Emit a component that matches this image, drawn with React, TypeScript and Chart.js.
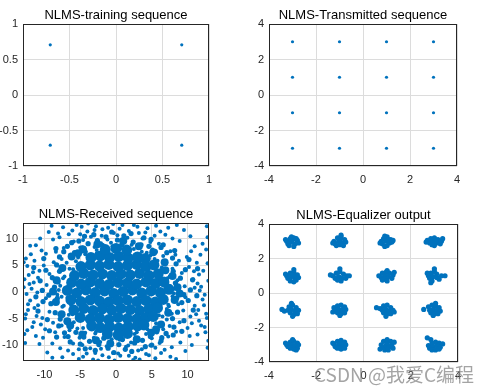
import React, { useEffect, useRef } from 'react';
import { Chart, registerables } from 'chart.js';

Chart.register(...registerables);

// ---------- data ----------
const trainingPoints: number[][] = [
  [-0.707, 0.707], [0.707, 0.707], [-0.707, -0.707], [0.707, -0.707],
];

const transmittedPoints: number[][] = [
  [-3, 3], [-1, 3], [1, 3], [3, 3],
  [-3, 1], [-1, 1], [1, 1], [3, 1],
  [-3, -1], [-1, -1], [1, -1], [3, -1],
  [-3, -3], [-1, -3], [1, -3], [3, -3],
];

// dense centre of the received cloud
const receivedCore: number[][] = [
  [-6.8, 0.3], [-5.5, -0.2], [-4.2, 0.4], [-2.9, -0.1], [-1.6, 0.2], [-0.3, -0.3], [1.0, 0.1], [2.3, 0.4], [3.6, -0.2], [4.9, 0.2], [6.2, -0.1], [7.4, 0.5],
  [-6.2, 1.8], [-4.9, 1.5], [-3.6, 1.9], [-2.3, 1.6], [-1.0, 1.4], [0.3, 1.8], [1.6, 1.7], [2.9, 1.5], [4.2, 1.9], [5.5, 1.6], [6.7, 1.9],
  [-6.3, -1.5], [-4.9, -1.8], [-3.6, -1.5], [-2.3, -1.7], [-1.0, -1.9], [0.3, -1.6], [1.6, -1.5], [2.9, -1.8], [4.2, -1.6], [5.5, -1.9], [6.6, -1.4],
  [-5.8, 3.1], [-4.5, 3.5], [-3.2, 3.2], [-1.9, 3.4], [-0.6, 3.1], [0.7, 3.4], [2.0, 3.2], [3.3, 3.5], [4.6, 3.1], [5.9, 3.4],
  [-5.9, -3.4], [-4.5, -3.1], [-3.2, -3.5], [-1.9, -3.2], [-0.6, -3.4], [0.7, -3.1], [2.0, -3.3], [3.3, -3.5], [4.6, -3.2], [5.8, -3.0],
  [-4.9, 4.8], [-3.6, 5.1], [-2.3, 4.9], [-1.0, 5.2], [0.3, 4.8], [1.6, 5.0], [2.9, 5.2], [4.2, 4.8], [5.3, 5.1],
  [-5.0, -4.8], [-3.6, -5.1], [-2.3, -4.9], [-1.0, -5.2], [0.3, -4.8], [1.6, -5.0], [2.9, -5.1], [4.2, -4.8], [5.2, -4.6],
  [-3.5, 6.5], [-2.2, 6.8], [-0.9, 6.5], [0.4, 6.7], [1.7, 6.4], [3.0, 6.6], [4.1, 6.3],
  [-3.4, -6.4], [-2.2, -6.7], [-0.9, -6.5], [0.4, -6.8], [1.7, -6.5], [3.0, -6.4], [3.9, -6.2],
  [-1.5, 8.0], [0.0, 8.2], [1.5, 7.9],
  [-1.2, -7.9], [0.3, -8.1], [1.6, -7.8],
];

// fringe of the dense centre
const receivedInner: number[][] = [
  [8.6, 0.9], [8.2, -1.5], [7.9, 3.0], [7.3, -3.9], [6.8, 5.6], [6.3, -6.1], [5.2, 7.5], [4.9, -7.7], [3.2, 8.6], [2.9, -8.9],
  [1.0, 9.6], [-0.8, -9.7], [-2.6, 9.0], [-2.8, -9.1], [-4.6, 8.0], [-4.7, -8.0], [-6.2, 6.7], [-6.4, -6.3], [-7.5, 4.5], [-7.6, -4.2],
  [-8.3, 2.2], [-8.4, -1.9], [-8.8, 0.1], [8.9, -0.3], [6.9, 4.1], [-6.8, -5.5], [-5.3, 7.3], [5.6, -7.0],
];

// band of medium density around the centre
const receivedMid: number[][] = [
  [-5.8, 7.4], [-4.7, 8.3], [-3.9, 9.1], [-2.6, 9.7], [-1.4, 10.4], [0.2, 9.8], [1.1, 10.6], [2.4, 9.4], [3.5, 8.9], [4.6, 8.6], [5.5, 7.6],
  [-3.1, 10.8], [-0.6, 11.3], [2.1, 11.0], [3.9, 10.2], [-5.2, 9.6], [6.3, 8.4], [-6.8, 8.6], [0.8, 8.9], [-1.9, 8.8], [4.9, 9.9], [-4.4, 10.5],
  [-5.6, -7.6], [-4.5, -8.5], [-3.7, -9.3], [-2.4, -9.9], [-1.1, -10.6], [0.4, -9.9], [1.3, -10.8], [2.6, -9.6], [3.7, -9.1], [4.8, -8.4], [5.7, -7.5],
  [-2.9, -11.0], [-0.3, -11.4], [2.2, -11.2], [4.1, -10.3], [-5.0, -9.8], [6.4, -8.6], [-6.7, -8.4], [0.9, -8.9], [-1.7, -8.7], [5.0, -10.0], [-4.3, -10.7],
  [-8.6, 0.9], [-9.4, -0.6], [-8.9, 2.7], [-9.8, 4.1], [-8.3, 5.1], [-7.9, 6.6], [-9.1, -2.2], [-8.5, -3.9], [-9.6, -5.2], [-8.0, -6.4], [-10.3, 0.3],
  [-10.6, 2.1], [-10.2, -1.8], [-10.9, -3.6], [-7.8, -5.1], [-7.9, 3.9], [-11.2, -0.9], [-10.1, 6.3], [-9.3, -7.3], [-11.5, 4.6], [-8.2, -1.2], [-8.1, 1.9],
  [8.7, 0.8], [9.5, -0.5], [9.0, 2.6], [9.7, 4.2], [8.4, 5.3], [7.9, 6.4], [9.2, -2.0], [8.6, -3.8], [9.5, -5.4], [8.1, -6.6], [10.4, 0.4],
  [10.7, 2.3], [10.1, -1.6], [10.8, -3.4], [7.9, -5.0], [8.0, 3.9], [11.3, -0.7], [10.2, 6.1], [9.2, -7.4], [11.4, 4.4], [8.5, -1.1], [8.3, 1.7],
  [7.1, 7.4], [6.6, 8.9], [8.2, 7.8], [-7.3, 7.6], [-6.2, 9.3], [-8.4, 8.2], [7.0, -7.8], [6.3, -9.2], [8.0, -8.1], [-7.2, -7.7], [-6.4, -9.4], [-8.3, -8.5],
];

// scattered points of the received cloud
const receivedScatter: number[][] = [
  [7.6, 1.1], [7.9, -0.8], [7.3, -2.4], [7.2, 2.6], [6.4, 4.6], [5.8, 5.9], [4.8, 6.9], [3.6, 7.6], [2.5, 8.1], [-2.7, 7.9],
  [-4.3, 7.1], [-5.6, 5.8], [-6.5, 4.4], [-7.2, 2.9], [-7.8, 1.2], [-7.6, -0.9], [-7.3, -2.6], [-6.6, -4.3], [-5.9, -5.7], [-4.6, -6.8],
  [-2.9, -7.8], [2.6, -7.9], [4.4, -7.0], [5.6, -5.9], [6.5, -4.6], [7.1, -3.2], [0.9, -9.1], [-0.7, 9.3], [-8.3, -1.7], [8.4, 1.8],
  [6.8, 1.2], [7.5, 2.9], [6.2, 4.1], [8.1, 0.6], [7.0, 5.3], [5.4, 6.2], [4.3, 7.4], [6.6, 6.8], [3.1, 8.3], [2.2, 8.9],
  [5.1, 8.0], [7.9, 4.4], [8.6, 2.2], [9.2, 3.6], [6.1, 2.5], [7.4, 0.2], [8.8, 5.9], [4.8, 9.4], [1.3, 9.6], [3.7, 10.1],
  [6.0, 9.1], [7.6, 7.7], [9.6, 1.1], [10.2, 4.7], [0.6, 8.2], [2.9, 7.1], [5.7, 5.0], [8.3, 7.0], [9.9, 6.6], [4.1, 11.2],
  [1.8, 11.5], [6.9, 10.8], [10.8, 2.4], [11.3, 5.5], [0.2, 10.7], [3.0, 12.3], [8.9, 9.6], [11.9, 1.0], [12.6, 8.0], [12.8, 10.3],
  [9.5, 11.7], [5.6, 12.5], [11.0, 8.6], [12.2, 4.0], [0.9, 12.6], [7.3, 12.1], [10.4, 10.5], [12.7, 12.4],
  [-6.7, 1.0], [-7.4, 2.6], [-6.0, 4.3], [-8.0, 0.4], [-6.9, 5.5], [-5.3, 6.5], [-4.2, 7.6], [-6.4, 7.0], [-3.0, 8.5], [-2.1, 9.2],
  [-5.0, 8.4], [-7.8, 4.1], [-8.5, 2.0], [-9.3, 3.4], [-6.2, 2.3], [-7.6, 6.2], [-8.7, 5.6], [-4.6, 9.8], [-1.2, 9.9], [-3.5, 10.4],
  [-5.9, 9.5], [-7.3, 8.3], [-9.7, 1.3], [-10.1, 5.0], [-0.5, 8.6], [-2.7, 7.3], [-8.4, 7.6], [-9.8, 7.2], [-4.0, 11.4], [-1.9, 11.8],
  [-6.6, 10.9], [-10.9, 2.7], [-11.4, 5.9], [-0.3, 11.1], [-2.8, 12.4], [-8.8, 9.9], [-12.1, 1.5], [-12.6, 6.3], [-12.4, 4.9], [-9.4, 11.3],
  [-5.5, 12.6], [-11.2, 8.8], [-7.4, 12.2], [-10.6, 10.1], [-12.9, 0.9], [-3.9, 12.9], [-8.1, 11.0], [-12.2, 3.2],
  [-6.8, -1.1], [-7.5, -2.8], [-6.1, -4.2], [-8.2, -0.5], [-6.9, -5.4], [-5.4, -6.9], [-4.3, -7.7], [-6.5, -7.2], [-3.1, -8.6], [-2.2, -9.4],
  [-5.1, -8.6], [-7.9, -4.3], [-8.6, -2.1], [-9.3, -3.7], [-6.3, -2.4], [-7.6, -6.3], [-8.8, -5.8], [-4.7, -10.0], [-1.3, -10.2], [-3.6, -10.6],
  [-6.0, -9.7], [-7.2, -8.5], [-9.8, -1.2], [-10.3, -4.9], [-0.6, -8.9], [-2.8, -7.5], [-8.5, -7.6], [-9.9, -7.0], [-4.1, -11.6], [-1.9, -11.9],
  [-6.7, -11.0], [-10.9, -2.5], [-11.5, -5.7], [-0.4, -11.5], [-5.2, -12.6], [-8.9, -9.7], [-12.0, -1.6], [-12.7, -5.0], [-11.2, -8.3], [-9.6, -11.4],
  [-3.2, -12.7], [-12.3, -3.4], [-7.5, -12.3], [-10.7, -9.8], [-12.8, -7.9], [-2.5, -12.9],
  [6.7, -1.0], [7.4, -2.7], [6.0, -4.4], [8.1, -0.3], [7.1, -5.2], [5.5, -6.8], [4.2, -7.9], [6.6, -7.0], [3.0, -8.8], [2.1, -9.5],
  [5.0, -8.7], [7.8, -4.1], [8.7, -2.3], [9.4, -3.5], [6.2, -2.5], [7.5, -6.4], [8.9, -5.7], [4.8, -10.1], [1.4, -10.3], [3.6, -10.8],
  [6.1, -9.6], [7.3, -8.4], [9.7, -1.0], [10.4, -4.6], [0.5, -9.0], [2.9, -7.6], [8.4, -7.5], [10.0, -6.8], [4.2, -11.7], [1.8, -12.0],
  [6.8, -10.9], [11.0, -2.6], [11.6, -5.4], [0.3, -11.6], [3.3, -12.7], [9.0, -9.5], [12.1, -1.4], [12.6, -4.1], [11.4, -8.0], [9.7, -11.1],
  [5.5, -12.5], [12.4, -6.6], [7.6, -12.2], [10.6, -10.0], [12.9, -9.2], [2.4, -12.8],
  [-12.5, -0.4], [-11.8, 0.6], [-12.8, 2.4], [-11.6, 3.7], [-12.9, 5.6], [-11.9, 7.1], [-12.3, -2.3], [-11.4, -3.0], [-12.6, -4.2], [-11.7, -6.6],
  [-12.4, -7.2], [-10.5, -6.1], [-10.4, 7.8], [-11.0, -0.1], [-10.7, 4.0], [-11.1, -4.5], [-12.0, 8.7], [-10.2, -8.6], [-12.7, -9.6], [-11.5, 1.8],
  [12.4, -0.5], [11.7, 0.3], [12.9, 2.1], [11.6, 3.3], [12.8, 5.4], [11.8, 7.0], [12.3, -2.5], [11.5, -3.4], [12.7, -4.9], [11.9, -6.3],
  [12.5, -7.6], [10.6, -5.9], [10.5, 7.7], [11.0, 0.8], [10.9, 3.9], [11.2, -4.2], [12.1, 9.1], [10.3, -8.3], [12.8, -10.5], [11.4, 1.6],
  [-6.1, 11.6], [-4.8, 12.3], [-3.0, 11.7], [-1.1, 12.1], [0.5, 11.9], [2.5, 12.6], [4.4, 12.0], [6.2, 11.4], [-7.9, 10.3], [7.9, 10.1],
  [-2.0, 10.6], [1.6, 10.2], [3.2, 11.1], [-5.0, 10.9], [5.4, 10.6], [8.5, 12.6], [-9.0, 12.5], [-0.4, 12.8],
  [-6.0, -11.7], [-4.6, -12.2], [-2.9, -11.5], [-1.0, -12.3], [0.6, -12.0], [2.7, -12.4], [4.6, -11.9], [6.3, -11.5], [-7.8, -10.6], [7.8, -10.4],
  [-2.1, -10.7], [1.7, -10.1], [3.1, -11.0], [-5.2, -10.8], [5.5, -10.5], [8.4, -12.6], [-8.9, -12.4], [-0.2, -12.9],
];

const equalizerPoints: number[][] = [
  [-3.25, 3.0], [-3.1, 3.15], [-2.95, 3.2], [-2.8, 3.05], [-3.2, 2.85], [-3.05, 2.95], [-2.9, 2.85], [-3.0, 3.1], [-2.75, 2.9], [-3.15, 2.75], [-2.95, 2.7], [-3.3, 3.1], [-3.05, 3.25], [-2.85, 3.15],
  [-1.25, 3.0], [-1.1, 3.2], [-0.95, 3.25], [-0.8, 3.1], [-1.2, 2.85], [-1.05, 3.0], [-0.9, 2.9], [-0.75, 2.95], [-1.0, 3.1], [-1.15, 2.75], [-0.85, 2.75], [-1.3, 2.9], [-1.0, 2.8], [-0.95, 3.35],
  [0.75, 3.0], [0.85, 3.15], [1.0, 3.25], [1.15, 3.1], [0.8, 2.85], [0.95, 3.0], [1.1, 2.9], [1.2, 2.95], [1.0, 2.75], [0.9, 2.7], [1.05, 3.1], [0.7, 2.9], [0.9, 3.3], [1.25, 3.05],
  [2.7, 3.05], [2.85, 3.15], [3.0, 3.2], [3.15, 3.1], [3.3, 3.0], [2.8, 2.9], [2.95, 3.0], [3.1, 2.9], [3.25, 2.85], [3.0, 2.75], [2.9, 2.8], [3.35, 3.15], [3.05, 3.05], [2.65, 2.95],
  [-3.25, 1.0], [-3.1, 1.15], [-2.95, 1.2], [-2.8, 1.05], [-3.2, 0.85], [-3.05, 0.95], [-2.9, 0.85], [-3.0, 1.05], [-2.85, 0.75], [-3.1, 0.7], [-2.95, 0.65], [-2.95, 1.35], [-3.3, 1.1], [-2.75, 0.9],
  [-1.3, 1.0], [-1.4, 1.05], [-1.15, 1.15], [-1.0, 1.25], [-0.85, 1.1], [-0.7, 1.0], [-1.2, 0.85], [-1.05, 0.95], [-0.9, 0.85], [-1.1, 0.75], [-0.95, 0.7], [-0.75, 0.85], [-1.0, 1.4], [-0.6, 1.0],
  [0.65, 1.0], [0.8, 1.15], [0.95, 1.2], [1.1, 1.15], [1.25, 1.05], [0.75, 0.9], [0.9, 1.0], [1.05, 0.95], [1.2, 0.85], [0.9, 0.8], [1.0, 0.7], [0.8, 0.75], [1.3, 1.2], [1.0, 1.3],
  [2.75, 1.0], [2.85, 1.15], [3.0, 1.25], [3.1, 1.1], [3.3, 1.0], [2.8, 0.85], [2.95, 0.95], [3.1, 0.9], [3.2, 0.8], [2.9, 0.7], [2.85, 0.6], [3.0, 1.4], [3.45, 1.0], [2.7, 1.15],
  [-3.45, -0.95], [-3.15, -0.8], [-3.0, -0.7], [-2.85, -0.85], [-3.2, -1.0], [-3.05, -0.95], [-2.9, -1.05], [-2.75, -1.0], [-3.1, -1.15], [-2.95, -1.25], [-3.0, -1.35], [-3.35, -1.05], [-2.8, -1.2], [-3.05, -0.6],
  [-1.25, -0.85], [-1.1, -0.75], [-0.95, -0.7], [-0.8, -0.8], [-1.2, -1.0], [-1.05, -0.95], [-0.9, -1.05], [-0.75, -0.95], [-1.1, -1.15], [-0.95, -1.2], [-0.8, -1.15], [-1.3, -1.1], [-1.0, -1.3], [-0.85, -0.9],
  [0.7, -0.9], [0.55, -0.85], [0.85, -0.75], [1.0, -0.7], [1.15, -0.85], [0.8, -1.0], [0.95, -0.95], [1.1, -1.05], [1.25, -1.0], [0.85, -1.15], [1.0, -1.2], [1.15, -1.2], [0.95, -1.35], [1.3, -1.1],
  [2.55, -0.95], [2.75, -0.8], [2.9, -0.7], [3.05, -0.75], [3.2, -0.85], [2.8, -1.0], [2.95, -0.95], [3.1, -1.0], [3.25, -1.05], [2.85, -1.15], [3.0, -1.2], [3.15, -1.2], [2.95, -1.3], [3.05, -0.6],
  [-3.25, -3.0], [-3.1, -2.85], [-2.95, -2.8], [-2.8, -2.9], [-3.2, -3.1], [-3.05, -3.0], [-2.9, -3.05], [-2.75, -3.0], [-3.1, -3.2], [-2.95, -3.25], [-2.8, -3.2], [-3.3, -2.9], [-3.0, -2.7], [-2.85, -3.3],
  [-1.25, -2.95], [-1.1, -2.8], [-0.95, -2.75], [-0.8, -2.85], [-1.2, -3.1], [-1.05, -3.0], [-0.9, -3.05], [-0.75, -3.0], [-1.1, -3.2], [-0.95, -3.25], [-0.8, -3.2], [-1.3, -2.9], [-1.0, -2.9], [-1.15, -3.15],
  [0.75, -3.0], [0.85, -2.8], [1.0, -2.7], [1.15, -2.8], [1.2, -3.0], [0.8, -3.15], [0.95, -3.05], [1.1, -3.1], [1.25, -3.2], [0.9, -3.3], [1.05, -3.3], [0.7, -3.25], [1.0, -2.9], [1.3, -2.85],
  [2.75, -3.05], [2.9, -2.9], [3.05, -2.85], [3.2, -2.9], [3.35, -2.95], [2.8, -3.2], [2.95, -3.1], [3.1, -3.05], [3.25, -3.15], [2.9, -3.3], [3.05, -3.3], [3.2, -3.25], [2.85, -2.7], [2.7, -2.6],
];

const trainingTicks = [-1, -0.5, 0, 0.5, 1];
const qamTicks = [-4, -2, 0, 2, 4];
const receivedTicks = [-10, -5, 0, 5, 10];

const titles = [
  'NLMS-training sequence',
  'NLMS-Transmitted sequence',
  'NLMS-Received sequence',
  'NLMS-Equalizer output',
];
const watermark = 'CSDN @我爱C编程';

// ---------- styling ----------
const BLUE = '#0072BD';
const FONT = '"Liberation Sans", Arial, sans-serif';
const TEXT = '#262626';
const GRID = '#dcdcdc';

type DS = { pts: number[][]; r: number };
type Panel = {
  left: number; top: number; w: number; h: number;
  padTop: number; padRight: number; yW: number; xH: number;
  min: number; max: number; ticks: number[];
  title: string; sets: DS[]; mark?: boolean;
};

const panels: Panel[] = [
  { left: 0, top: 0, w: 245, h: 196, padTop: 24, padRight: 36, yW: 23, xH: 30, min: -1, max: 1, ticks: trainingTicks, title: titles[0], sets: [{ pts: trainingPoints, r: 1.6 }] },
  { left: 245, top: 0, w: 246, h: 196, padTop: 24, padRight: 34, yW: 24, xH: 30, min: -4, max: 4, ticks: qamTicks, title: titles[1], sets: [{ pts: transmittedPoints, r: 1.6 }] },
  { left: 0, top: 196, w: 245, h: 196, padTop: 27, padRight: 36, yW: 23, xH: 31, min: -13, max: 13, ticks: receivedTicks, title: titles[2], sets: [{ pts: receivedCore, r: 5.5 }, { pts: receivedInner, r: 4 }, { pts: receivedMid, r: 2.6 }, { pts: receivedScatter, r: 2 }] },
  { left: 245, top: 196, w: 246, h: 196, padTop: 28, padRight: 33, yW: 24, xH: 30, min: -4, max: 4, ticks: qamTicks, title: titles[3], sets: [{ pts: equalizerPoints, r: 2.6 }], mark: true },
];

function makeAxis(p: Panel, isX: boolean) {
  return {
    type: 'linear',
    min: p.min,
    max: p.max,
    afterBuildTicks: (s: any) => { s.ticks = p.ticks.map((v) => ({ value: v })); },
    afterFit: (s: any) => { if (isX) s.height = p.xH; else s.width = p.yW; },
    ticks: {
      font: { family: FONT, size: 11 },
      color: TEXT,
      padding: isX ? 7 : 5,
      maxRotation: 0,
      autoSkip: false,
      callback: (v: any) => String(v),
    },
    grid: { color: GRID, lineWidth: 1, drawTicks: false },
    border: { display: false },
  };
}

function PanelChart({ p }: { p: Panel }) {
  const ref = useRef<HTMLCanvasElement | null>(null);
  useEffect(() => {
    if (!ref.current) return;
    const deco = {
      id: 'deco' + p.title,
      afterDraw(chart: any) {
        const { ctx, chartArea: a } = chart;
        ctx.save();
        ctx.strokeStyle = TEXT;
        ctx.lineWidth = 1;
        ctx.strokeRect(Math.round(a.left) + 0.5, Math.round(a.top) + 0.5, Math.round(a.right - a.left) - 1, Math.round(a.bottom - a.top) - 1);
        ctx.fillStyle = '#000';
        ctx.font = `13px ${FONT}`;
        ctx.textAlign = 'center';
        ctx.textBaseline = 'alphabetic';
        ctx.fillText(p.title, (a.left + a.right) / 2, a.top - 5);
        if (p.mark) {
          ctx.font = '19px "Noto Sans CJK SC", sans-serif';
          ctx.textAlign = 'left';
          ctx.fillStyle = 'rgba(125,125,125,0.7)';
          ctx.fillText(watermark, 314 - p.left, 382 - p.top);
        }
        ctx.restore();
      },
    };
    const chart = new Chart(ref.current, {
      type: 'scatter',
      data: {
        datasets: p.sets.map((d) => ({
          data: d.pts.map(([x, y]) => ({ x, y })),
          backgroundColor: BLUE,
          borderColor: BLUE,
          borderWidth: 0,
          pointRadius: d.r,
          pointBorderWidth: 0,
          clip: 0,
        })),
      },
      options: {
        animation: false,
        responsive: false,
        devicePixelRatio: 1,
        events: [],
        layout: { padding: { top: p.padTop, right: p.padRight, left: 0, bottom: 0 } },
        plugins: { legend: { display: false }, tooltip: { enabled: false }, title: { display: false } },
        scales: { x: makeAxis(p, true), y: makeAxis(p, false) } as any,
      },
      plugins: [deco],
    } as any);
    return () => chart.destroy();
  }, [p]);
  return (
    <canvas
      ref={ref}
      width={p.w}
      height={p.h}
      style={{ position: 'absolute', left: p.left, top: p.top, width: p.w, height: p.h }}
    />
  );
}

export default function App() {
  return (
    <div style={{ position: 'fixed', left: 0, top: 0, width: 491, height: 392, background: '#fff', overflow: 'hidden' }}>
      {panels.map((p) => (
        <PanelChart key={p.title} p={p} />
      ))}
    </div>
  );
}
